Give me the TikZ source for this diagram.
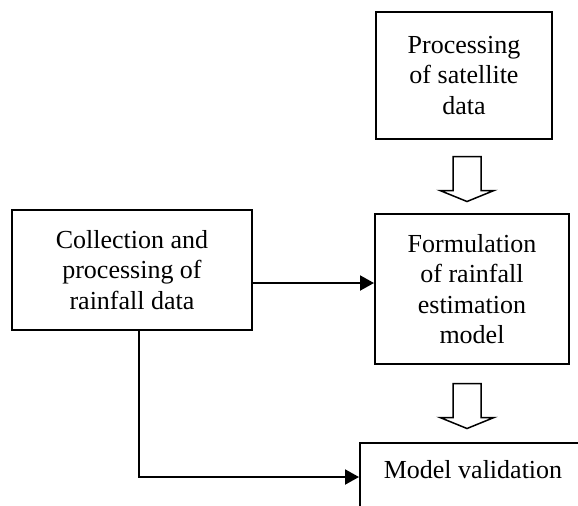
\documentclass[tikz,border=0pt]{standalone}
\usepackage{fontspec}
\setmainfont{Liberation Serif}
\usetikzlibrary{arrows.meta,calc}
\tikzset{
  hollowarrow/.pic={
    \draw[line width=0.75pt, miter limit=10] (-14,-20) -- (-14,14) -- (-27,14) -- (0,25) -- (27,14) -- (14,14) -- (14,-20) -- cycle;
  }
}
\tikzset{
  block/.style={
    draw,
    shape = rectangle,
    line width = 1pt,
    align = center,
    inner sep = 0pt,
    font = \fontsize{13}{15.2}\selectfont
  },
  flow/.style={
    line width = 1pt,
    -{Triangle[length=7pt,width=7.5pt]}
  }
}

\begin{document}
\begin{tikzpicture}[x=0.5pt, y=-0.5pt]
        \useasboundingbox (0,0) rectangle (578,505);
        \clip (0,0) rectangle (578,505);
        \node[block, minimum width=88pt, minimum height=63.5pt] (sat) at (464,75.5) {Processing\\of satellite\\data};
        \node[block, minimum width=97pt, minimum height=75pt] (form) at (472,289) {Formulation\\of rainfall\\estimation\\model};
        \node[block, minimum width=120pt, minimum height=60pt] (coll) at (132,270) {Collection and\\processing of\\rainfall data};
        % box runs past the page edge
        \node[block, minimum width=113pt, minimum height=34pt] (valid) at (473,477) {};
        \node[block, draw=none] (vtext) at ([yshift=3.5pt]valid.center) {Model validation};
        \pic at ($(sat.south)!0.5!(form.north)+(-1,0)$) {hollowarrow};
        \pic at ($(form.south)!0.5!(valid.north)+(-5.5,0)$) {hollowarrow};
        \draw[flow] ([yshift=-6.5pt]coll.east) -- ([yshift=-6.5pt]coll.east -| form.west);
        \draw[flow] ([xshift=3.5pt]coll.south) |- (valid.west);
    \end{tikzpicture}
\end{document}
